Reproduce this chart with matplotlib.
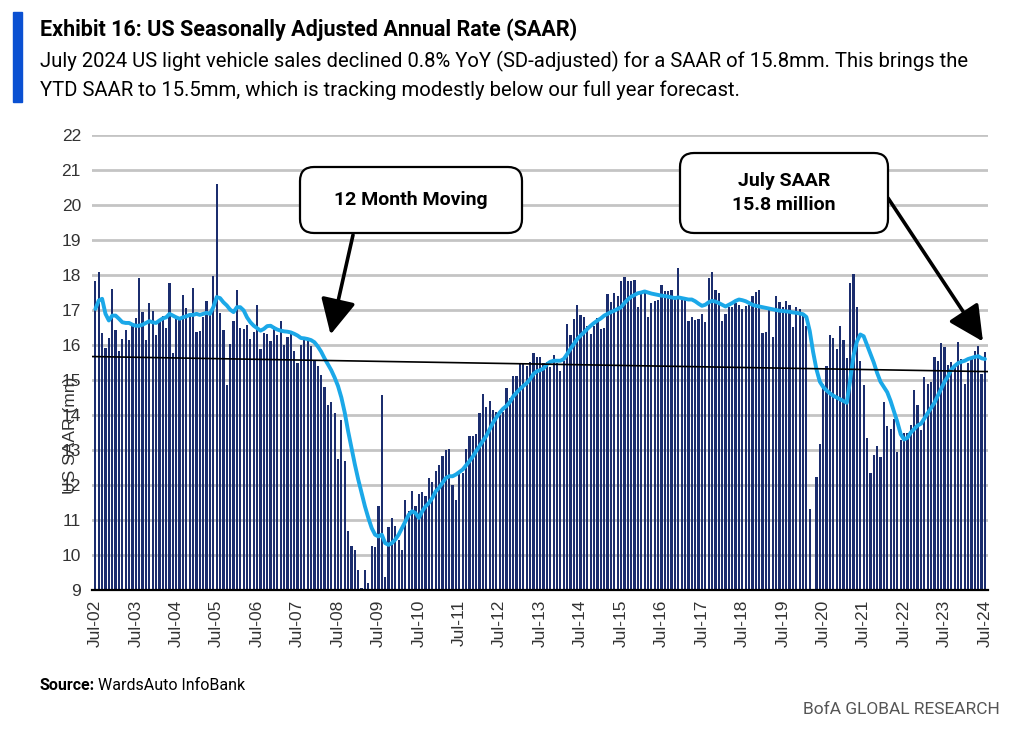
import matplotlib
matplotlib.use("Agg")
import matplotlib.pyplot as plt
from matplotlib import font_manager
from matplotlib.patches import FancyBboxPatch, Rectangle
from matplotlib.transforms import IdentityTransform
import numpy as np

# monthly SAAR (mn units), Jul-02 .. Jul-24
saar = [
    17.82, 18.10, 16.33, 15.91, 16.19, 17.59, 16.43, 15.82, 16.17, 16.43, 16.14, 16.58,
    16.76, 17.92, 16.94, 16.14, 17.20, 16.98, 16.30, 16.65, 16.84, 16.49, 17.76, 15.76,
    16.75, 16.71, 17.43, 17.06, 16.89, 17.63, 16.36, 16.39, 16.81, 17.27, 16.96, 17.97,
    20.61, 16.92, 16.43, 14.85, 16.03, 16.68, 17.56, 16.50, 16.46, 16.58, 16.17, 16.36,
    17.13, 15.90, 16.33, 16.31, 16.12, 16.55, 16.30, 16.70, 16.00, 16.22, 16.34, 15.84,
    15.50, 16.00, 16.17, 16.12, 15.97, 15.55, 15.39, 15.15, 14.79, 14.28, 14.38, 14.05,
    12.73, 13.87, 12.68, 10.70, 10.26, 10.15, 9.56, 9.05, 9.56, 9.20, 10.26, 10.24,
    11.40, 14.57, 9.38, 10.80, 11.06, 10.82, 10.44, 10.13, 11.56, 11.25, 11.82, 11.39,
    11.73, 11.80, 11.68, 12.20, 12.08, 12.40, 12.56, 12.83, 13.00, 13.04, 11.99, 11.58,
    12.41, 12.35, 13.02, 13.40, 13.40, 13.46, 14.05, 14.61, 14.24, 14.40, 14.15, 14.09,
    14.00, 14.10, 14.76, 14.49, 15.12, 15.12, 15.50, 15.48, 15.40, 15.52, 15.77, 15.67,
    15.67, 15.48, 15.52, 15.36, 15.71, 15.50, 15.26, 15.55, 16.60, 16.29, 16.75, 17.13,
    16.86, 16.79, 16.53, 16.32, 16.54, 16.76, 16.46, 16.50, 17.46, 17.24, 17.49, 17.41,
    17.82, 17.94, 17.82, 17.82, 17.86, 17.08, 17.49, 17.51, 16.79, 17.20, 17.25, 17.29,
    17.72, 17.53, 17.54, 17.58, 17.41, 18.20, 17.32, 17.34, 16.68, 16.79, 16.71, 16.73,
    16.89, 16.65, 17.91, 18.08, 17.58, 17.48, 16.70, 16.89, 17.08, 17.08, 17.20, 17.15,
    17.03, 17.11, 17.15, 17.41, 17.51, 17.56, 16.34, 16.38, 17.06, 16.24, 17.40, 17.22,
    17.08, 17.25, 17.13, 16.51, 17.08, 17.03, 16.92, 16.54, 11.31, 8.70, 12.22, 13.16,
    14.88, 15.41, 16.30, 16.20, 15.90, 16.55, 16.14, 15.63, 17.78, 18.02, 17.10, 15.53,
    14.86, 13.33, 12.35, 12.85, 13.11, 12.80, 14.38, 13.69, 13.59, 13.88, 12.95, 13.28,
    13.50, 13.50, 13.72, 14.71, 14.29, 13.57, 15.10, 14.88, 14.93, 15.67, 15.53, 16.06,
    15.93, 15.43, 15.52, 15.47, 16.10, 15.60, 14.88, 15.50, 15.60, 15.82, 15.98, 15.17,
    15.81,
]

# 12 month moving line as drawn in the exhibit
moving = [
    17.03, 17.27, 17.32, 16.89, 16.70, 16.84, 16.84, 16.75, 16.65, 16.63, 16.63, 16.58,
    16.55, 16.55, 16.58, 16.63, 16.68, 16.65, 16.63, 16.70, 16.76, 16.79, 16.89, 16.84,
    16.79, 16.75, 16.79, 16.82, 16.86, 16.86, 16.89, 16.86, 16.89, 16.92, 16.89, 17.08,
    17.37, 17.34, 17.22, 17.13, 17.01, 16.94, 17.08, 17.08, 16.99, 16.79, 16.65, 16.55,
    16.48, 16.41, 16.46, 16.54, 16.55, 16.49, 16.44, 16.41, 16.39, 16.38, 16.36, 16.32,
    16.27, 16.20, 16.19, 16.17, 16.14, 16.08, 15.96, 15.81, 15.62, 15.45, 15.28, 15.07,
    14.83, 14.50, 14.07, 13.54, 13.06, 12.59, 12.16, 11.77, 11.39, 11.06, 10.77, 10.58,
    10.53, 10.58, 10.34, 10.29, 10.34, 10.44, 10.58, 10.77, 10.96, 11.15, 11.25, 11.20,
    11.06, 11.25, 11.39, 11.49, 11.63, 11.82, 11.92, 12.06, 12.20, 12.25, 12.25, 12.30,
    12.37, 12.44, 12.56, 12.68, 12.81, 12.97, 13.11, 13.26, 13.40, 13.59, 13.78, 13.93,
    14.07, 14.18, 14.26, 14.37, 14.53, 14.64, 14.74, 14.83, 14.91, 15.02, 15.17, 15.25,
    15.28, 15.33, 15.45, 15.52, 15.55, 15.55, 15.55, 15.60, 15.74, 15.89, 16.03, 16.17,
    16.27, 16.36, 16.46, 16.55, 16.63, 16.70, 16.76, 16.84, 16.89, 16.94, 16.98, 17.03,
    17.08, 17.20, 17.30, 17.38, 17.43, 17.48, 17.50, 17.53, 17.50, 17.47, 17.45, 17.43,
    17.41, 17.40, 17.38, 17.36, 17.34, 17.36, 17.34, 17.32, 17.30, 17.30, 17.25, 17.18,
    17.12, 17.15, 17.22, 17.26, 17.24, 17.20, 17.15, 17.10, 17.15, 17.20, 17.26, 17.30,
    17.28, 17.25, 17.20, 17.15, 17.12, 17.10, 17.08, 17.06, 17.04, 17.02, 17.00, 16.98,
    16.97, 16.96, 16.95, 16.93, 16.92, 16.90, 16.88, 16.80, 16.40, 15.80, 15.30, 14.95,
    14.80, 14.70, 14.62, 14.55, 14.50, 14.45, 14.40, 14.35, 15.00, 15.70, 16.10, 16.30,
    16.25, 16.00, 15.75, 15.50, 15.20, 14.95, 14.80, 14.65, 14.40, 14.10, 13.80, 13.45,
    13.30, 13.35, 13.50, 13.60, 13.70, 13.75, 13.90, 14.05, 14.20, 14.35, 14.55, 14.75,
    14.95, 15.10, 15.30, 15.40, 15.48, 15.52, 15.55, 15.60, 15.63, 15.66, 15.68, 15.62,
    15.60,
]

# straight trend line, value at left and right edge of the plot
trend_ends = [15.67, 15.24]

tick_labels = ["Jul-02", "Jul-03", "Jul-04", "Jul-05", "Jul-06", "Jul-07", "Jul-08", "Jul-09",
               "Jul-10", "Jul-11", "Jul-12", "Jul-13", "Jul-14", "Jul-15", "Jul-16", "Jul-17",
               "Jul-18", "Jul-19", "Jul-20", "Jul-21", "Jul-22", "Jul-23", "Jul-24"]

assert len(saar) == len(moving) == 265

names = {f.name for f in font_manager.fontManager.ttflist}
narrow = "Liberation Sans Narrow" if "Liberation Sans Narrow" in names else "Roboto"
plt.rcParams["font.family"] = [narrow, "DejaVu Sans"]
plain = ["Liberation Sans", "DejaVu Sans"]

W, H = 1024, 731
fig = plt.figure(figsize=(W / 100, H / 100), dpi=100)
ax = fig.add_axes([92 / W, 141 / H, 896 / W, 455 / H])

x = np.arange(len(saar))
xlim = (-1.0, 264.9)

ax.bar(x, saar, width=0.66, color="#1b2d6e", zorder=2)
ax.plot(x, moving, color="#1ba8e8", lw=2.8, zorder=3, solid_capstyle="round")
ax.plot(xlim, trend_ends, color="black", lw=1.2, zorder=4)

ax.set_xlim(*xlim)
ax.set_ylim(9, 22)
ax.set_yticks(range(9, 23))
ax.yaxis.grid(True, color="#c4c4c4", lw=2)
ax.set_axisbelow(True)
ax.set_xticks(x[::12])
ax.set_xticklabels(tick_labels, rotation=90, family=plain)
for lab in ax.get_yticklabels():
    lab.set_family(plain)
ax.tick_params(axis="x", length=0, pad=7, labelsize=12.5, colors="#333333")
ax.tick_params(axis="y", length=0, pad=8, labelsize=12.5, colors="#333333")
for s in ["left", "right", "top"]:
    ax.spines[s].set_visible(False)
ax.spines["bottom"].set_linewidth(1.6)

fig.text(70 / W, 1 - 435 / H, "US SAAR (mn)", rotation=90, ha="center", va="center",
         fontsize=12.5, color="#333333", family=plain)

# header
pix = IdentityTransform()
fig.patches.append(Rectangle((13, H - 102), 9, 90, transform=pix, color="#0a50d2"))
fig.text(40, H - 30, "Exhibit 16: US Seasonally Adjusted Annual Rate (SAAR)", transform=pix,
         fontsize=15.5, fontweight="bold", va="center")
fig.text(40, H - 61, "July 2024 US light vehicle sales declined 0.8% YoY (SD-adjusted) for a SAAR of 15.8mm. This brings the",
         transform=pix, fontsize=14.6, va="center")
fig.text(40, H - 90, "YTD SAAR to 15.5mm, which is tracking modestly below our full year forecast.",
         transform=pix, fontsize=14.6, va="center")

# callout boxes
def callout(x0, y0, x1, y1, text):
    fig.patches.append(FancyBboxPatch((x0, H - y1), x1 - x0, y1 - y0, transform=pix,
                                      boxstyle="round,pad=0,rounding_size=14",
                                      fc="white", ec="black", lw=1.6, zorder=5))
    fig.text((x0 + x1) / 2, H - (y0 + y1) / 2, text, transform=pix, ha="center", va="center",
             fontsize=14, fontweight="bold", linespacing=1.45, zorder=6)

callout(300, 167, 522, 233, "12 Month Moving")
callout(680, 153, 888, 233, "July SAAR\n15.8 million")

arrow = dict(arrowstyle="-|>,head_length=0.9,head_width=0.45", color="black", lw=2.6,
             shrinkA=0, shrinkB=0, mutation_scale=24)
ax.annotate("", xy=(69.8, 16.3), xycoords="data", xytext=(353, H - 235),
            textcoords="figure pixels", arrowprops=arrow, zorder=6)
ax.annotate("", xy=(263.4, 16.1), xycoords="data", xytext=(888, H - 198),
            textcoords="figure pixels", arrowprops=arrow, zorder=6)

# footer
src = fig.text(40, H - 686, "Source:", transform=pix, fontsize=11.5, fontweight="bold", va="center")
fig.canvas.draw()
bb = src.get_window_extent()
fig.text(bb.x1 + 3, H - 686, "WardsAuto InfoBank", transform=pix, fontsize=11.5, va="center")
fig.text(1000, H - 710, "BofA GLOBAL RESEARCH", transform=pix, fontsize=12.5, ha="right",
         va="center", color="#555555")

fig.savefig("out.png", dpi=100)
